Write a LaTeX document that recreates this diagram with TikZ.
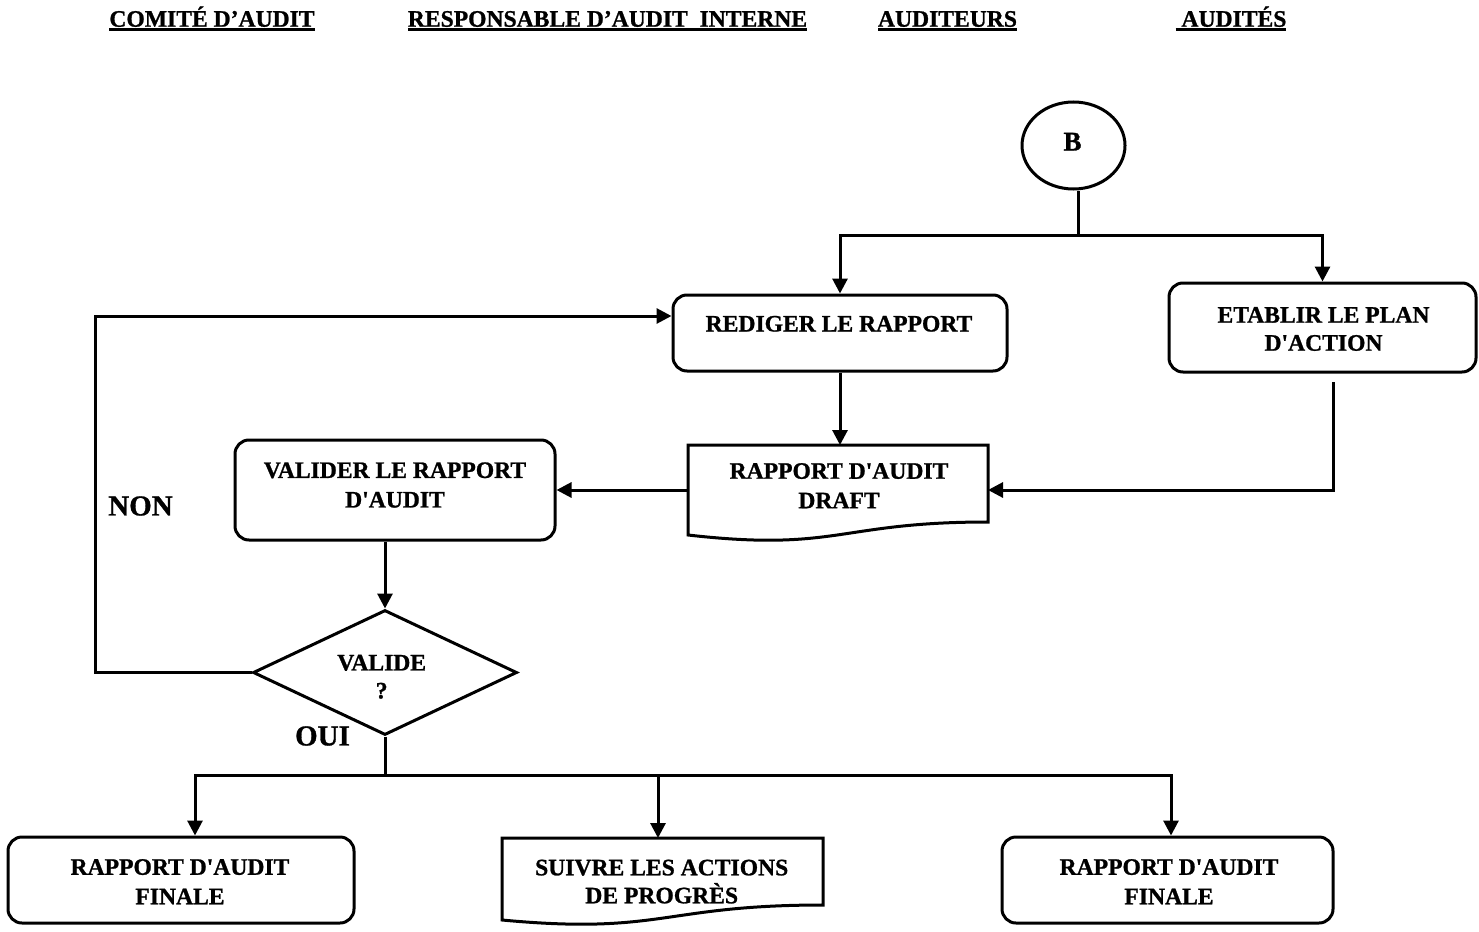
\documentclass[tikz,border=0pt]{standalone}
\usepackage{fontspec}
\setmainfont{Liberation Serif}[BoldFeatures={FakeBold=1}]
\usetikzlibrary{arrows.meta,shapes.geometric,calc}

% heading text with a thick rule under it
\newcommand{\hdrul}[1]{\setbox0\hbox{#1}\rlap{\rule[-4.8pt]{\wd0}{3pt}}\box0}

\begin{document}
\begin{tikzpicture}[x=1pt,y=-1pt,
  every node/.style={font=\fontsize{23.6}{29.5}\selectfont\bfseries},
  lab/.style={align=center, inner sep=0pt},
  stepbox/.style={draw, line width=3pt, rounded corners=14pt, inner sep=0pt},
  docbox/.style={inner sep=0pt, outer sep=0pt},
  decision/.style={draw, diamond, line width=3pt, inner sep=0pt},
  link/.style={line width=3pt},
  arr/.style={link, -{Triangle[length=15pt,width=15pt]}},
  hdr/.style={anchor=base, inner sep=0pt},
  big/.style={font=\fontsize{29}{34}\selectfont\bfseries, inner sep=0pt}
]
\useasboundingbox (0,0) rectangle (1479,931);

% column headings
\node[hdr] (h1) at (212,26.7) {\hdrul{COMITÉ D’AUDIT}};
\node[hdr] (h2) at (607.5,26.7) {\hdrul{RESPONSABLE D’AUDIT\ \ INTERNE}};
\node[hdr] (h3) at (947.5,26.7) {\hdrul{AUDITEURS}};
\node[hdr] (h4) at (1231,26.7) {\hdrul{\ AUDITÉS}};

% connector B
\node[draw, ellipse, line width=3pt, minimum width=103pt, minimum height=87pt, inner sep=0pt] (B) at (1073.5,145.5) {};
\node[lab, font=\fontsize{27}{30}\selectfont\bfseries] (Bt) at (1072.5,141.7) {B};

% process steps
\node[stepbox, minimum width=334pt, minimum height=76pt] (redige) at (840,333) {};
\node[lab] (redige-t) at (839,323.8) {REDIGER LE RAPPORT};

\node[stepbox, minimum width=307pt, minimum height=89pt] (etab) at (1322.5,327.5) {};
\node[lab] (etab-t) at (1323.5,329) {ETABLIR LE PLAN\\[-1.5pt]D\textquotesingle ACTION};

\node[stepbox, minimum width=320pt, minimum height=100pt] (valider) at (395,490) {};
\node[lab] (valider-t) at (395,485) {VALIDER LE RAPPORT\\D\textquotesingle AUDIT};

% draft document
\node[docbox, minimum width=300pt, minimum height=90pt] (draft) at (838,490) {};
\draw[link] (draft.north west) -- (draft.north east) -- ($(draft.north east)+(0,77)$)
  .. controls ($(draft.north)+(0,77)$) and ($(draft.north)+(0,107)$) .. (draft.south west) -- cycle;
\node[lab] (draft-t) at (839,485.7) {RAPPORT D\textquotesingle AUDIT\\DRAFT};

% decision
\node[decision, minimum width=264pt, minimum height=125pt] (valide) at (385,672.5) {};
\node[lab] (valide-t) at (381.7,676.8) {VALIDE\\[-1.5pt]?};

\node[big] (non) at (140.5,506) {NON};
\node[big] (oui) at (322.5,736) {OUI};

% outputs
\node[stepbox, minimum width=346pt, minimum height=86pt] (fin1) at (181,880) {};
\node[lab] (fin1-t) at (180,881.7) {RAPPORT D\textquotesingle AUDIT\\FINALE};

\node[docbox, minimum width=321pt, minimum height=82pt] (suivi) at (662.5,879) {};
\draw[link] (suivi.north west) -- (suivi.north east) -- ($(suivi.north east)+(0,67)$)
  .. controls ($(suivi.north)+(0,67)$) and ($(suivi.north)+(0,97)$) .. (suivi.south west) -- cycle;
\node[lab] (suivi-t) at (661.7,881.6) {SUIVRE LES ACTIONS\\[-1.5pt]DE PROGRÈS};

\node[stepbox, minimum width=331pt, minimum height=86pt] (fin2) at (1167.5,880) {};
\node[lab] (fin2-t) at (1169,881.7) {RAPPORT D\textquotesingle AUDIT\\FINALE};

% junction points
\coordinate (jB) at (1078,235);
\coordinate (lp) at (95,316);
\coordinate (e1) at (1333,382);
\coordinate (jD) at (385,775);
\coordinate (b1) at (195,775);
\coordinate (b2) at (658,775);
\coordinate (b3) at (1171,775);

% connectors
\draw[link] (B.south -| jB) -- (jB);
\draw[arr] (jB) -| (redige.north);
\draw[arr] (jB) -| (etab.north);
\draw[arr] (redige.south) -- (redige.south |- draft.north);
\draw[arr] (e1) |- (draft.east);
\draw[arr] (draft.west) -- (valider.east);
\draw[arr] (valider.south -| valide.north) -- (valide.north);
\draw[arr] (valide.west) -| (lp) -- (lp -| redige.west);
\draw[link] (valide.south) -- (jD);
\draw[arr] (jD) -| (b1 |- fin1.north);
\draw[arr] (jD) -| (b3 |- fin2.north);
\draw[arr] (b2) -- (b2 |- suivi.north);
\end{tikzpicture}
\end{document}
